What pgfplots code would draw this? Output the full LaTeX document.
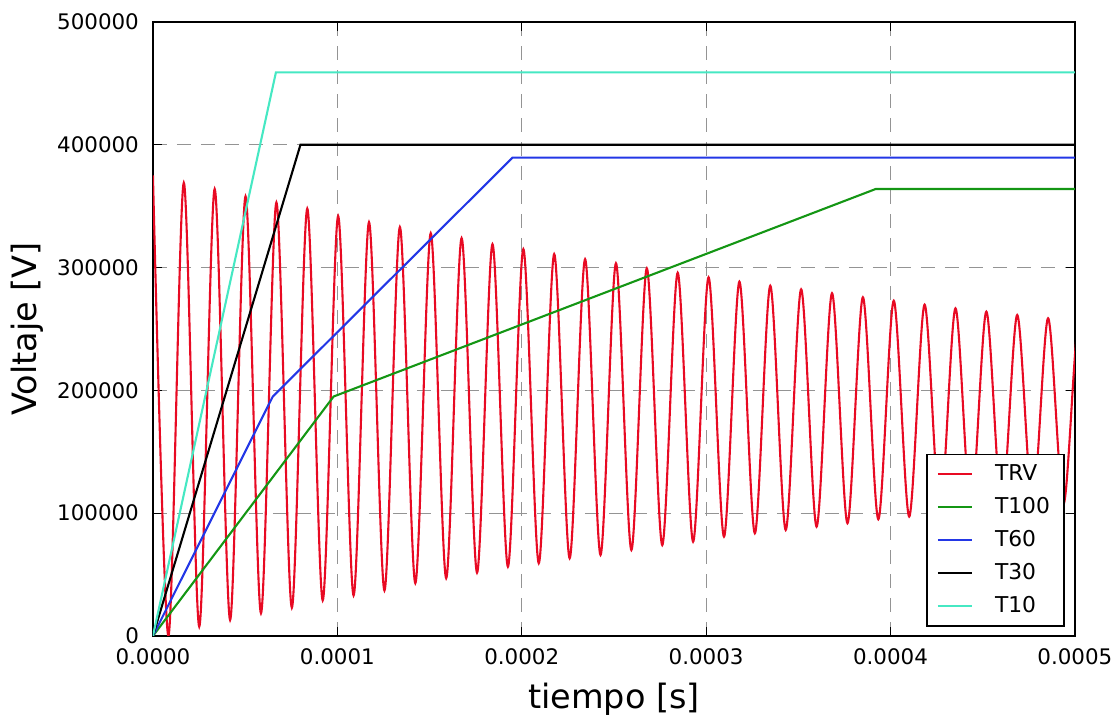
\documentclass[border=0pt]{standalone}
\usepackage{pgfplots}
\pgfplotsset{compat=1.18}
\usepackage{fontspec}
\setmainfont{DejaVu Sans}

\definecolor{trvred}{RGB}{232,10,35}
\definecolor{tgreen}{RGB}{20,150,20}
\definecolor{tblue}{RGB}{35,55,230}
\definecolor{tcyan}{RGB}{70,232,195}

\begin{document}
\begin{tikzpicture}
\begin{axis}[
    scale only axis,
    width=461pt, height=307pt,
    xmin=0, xmax=0.0005,
    ymin=0, ymax=500000,
    xtick={0,0.0001,0.0002,0.0003,0.0004,0.0005},
    xticklabels={0.0000,0.0001,0.0002,0.0003,0.0004,0.0005},
    ytick={0,100000,200000,300000,400000,500000},
    yticklabels={0,100000,200000,300000,400000,500000},
    scaled ticks=false,
    tick align=inside,
    major tick length=4.5pt,
    tick style={black, line width=0.6pt},
    axis line style={line width=1pt},
    grid=major,
    major grid style={black!42, line width=0.6pt, dash pattern=on 7pt off 5pt},
    ticklabel style={font=\fontsize{10.7}{12}\selectfont},
    xticklabel style={yshift=-3pt},
    yticklabel style={xshift=-3.5pt},
    xlabel={tiempo [s]},
    ylabel={Voltaje [V]},
    xlabel style={yshift=-2pt},
    label style={font=\fontsize{16.75}{20}\selectfont},
    every axis plot/.append style={line width=1.05pt},
    legend cell align=left,
    legend style={at={(rel axis cs:0.989,0.015)}, anchor=south east,
        draw=black, line width=0.8pt, font=\fontsize{10.9}{12}\selectfont,
        row sep=3pt, column sep=9pt, inner xsep=5pt, inner ysep=3pt},
]
% transient recovery voltage: peaks and troughs
\addplot[trvred, smooth] coordinates {
(0,375000) (8.37e-6,0) (1.674e-5,369000) (2.511e-5,7600)
(3.348e-5,364000) (4.185e-5,13000) (5.022e-5,358000) (5.859e-5,18500)
(6.696e-5,353000) (7.533e-5,23000) (8.370e-5,348000) (9.207e-5,29000)
(1.0044e-4,342000) (1.0881e-4,33000) (1.1718e-4,337000) (1.2555e-4,37000)
(1.3392e-4,333000) (1.4229e-4,43000) (1.5066e-4,328000) (1.5903e-4,47000)
(1.6740e-4,324000) (1.7577e-4,51500) (1.8414e-4,319000) (1.9251e-4,56400)
(2.0088e-4,315000) (2.0925e-4,59200) (2.1762e-4,311000) (2.2599e-4,63300)
(2.3436e-4,306800) (2.4273e-4,66000) (2.5110e-4,303500) (2.5947e-4,70000)
(2.6784e-4,299400) (2.7621e-4,74000) (2.8458e-4,295800) (2.9295e-4,76800)
(3.0132e-4,292100) (3.0969e-4,80900) (3.1806e-4,288500) (3.2643e-4,83600)
(3.3480e-4,285200) (3.4317e-4,86300) (3.5154e-4,282300) (3.5991e-4,89000)
(3.6828e-4,279100) (3.7665e-4,91800) (3.8502e-4,275800) (3.9339e-4,95000)
(4.0176e-4,273000) (4.1013e-4,97200) (4.1850e-4,269800) (4.2687e-4,99500)
(4.3524e-4,266800) (4.4361e-4,101500) (4.5198e-4,264100) (4.6035e-4,103500)
(4.6872e-4,261400) (4.7709e-4,105500) (4.8546e-4,258700) (4.9383e-4,107500)
(5.0220e-4,256000) (5.1057e-4,109500)
};
\addlegendentry{TRV}
\addplot[tgreen] coordinates {(0,0) (9.8e-5,195000) (3.92e-4,364000) (5e-4,364000)};
\addlegendentry{T100}
\addplot[tblue] coordinates {(0,0) (6.5e-5,195000) (1.95e-4,389500) (5e-4,389500)};
\addlegendentry{T60}
\addplot[black] coordinates {(0,0) (8.0e-5,400000) (5e-4,400000)};
\addlegendentry{T30}
\addplot[tcyan] coordinates {(0,0) (6.67e-5,459000) (5e-4,459000)};
\addlegendentry{T10}
\coordinate (bl) at (rel axis cs:-0.1659,-0.127);
\coordinate (tr) at (rel axis cs:1.0477,1.0358);
\end{axis}
\path (bl) rectangle (tr);
\end{tikzpicture}
\end{document}
